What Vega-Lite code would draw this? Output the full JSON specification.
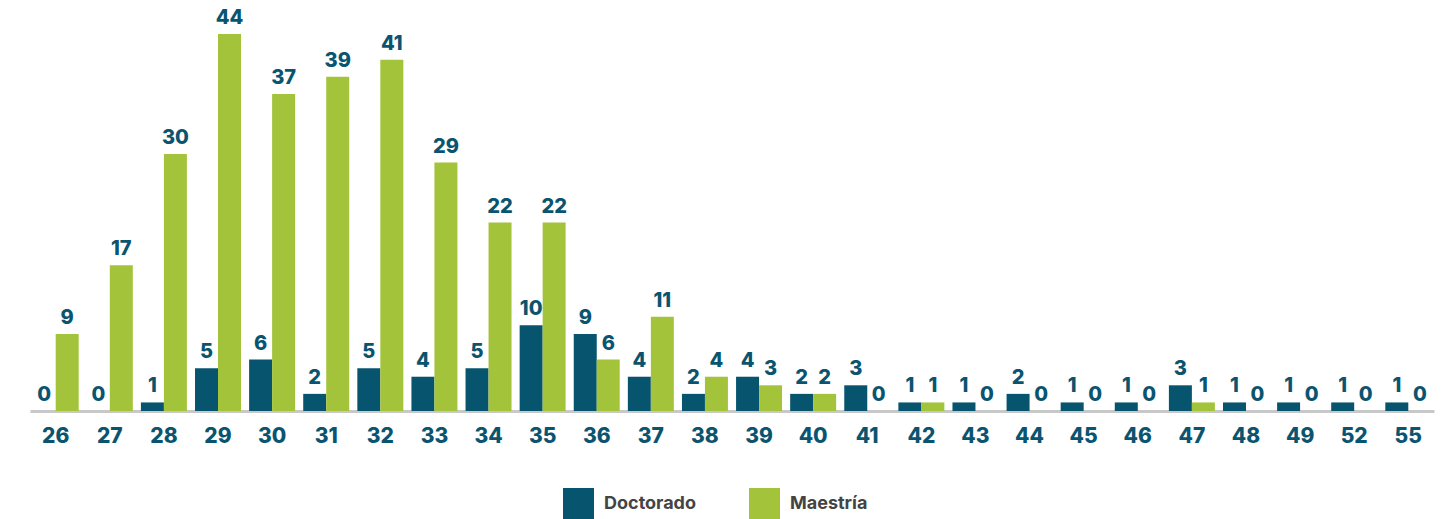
{
  "$schema": "https://vega.github.io/schema/vega-lite/v6.json",
  "width": 1404,
  "height": 377,
  "padding": {"left": 30, "top": 8, "right": 9, "bottom": 0},
  "autosize": {"type": "pad"},
  "background": "#ffffff",
  "config": {"view": {"stroke": null}, "font": "Inter"},
  "data": {"values": [
    {"edad": "26", "tipo": "Doctorado", "n": 0}, {"edad": "26", "tipo": "Maestría", "n": 9},
    {"edad": "27", "tipo": "Doctorado", "n": 0}, {"edad": "27", "tipo": "Maestría", "n": 17},
    {"edad": "28", "tipo": "Doctorado", "n": 1}, {"edad": "28", "tipo": "Maestría", "n": 30},
    {"edad": "29", "tipo": "Doctorado", "n": 5}, {"edad": "29", "tipo": "Maestría", "n": 44},
    {"edad": "30", "tipo": "Doctorado", "n": 6}, {"edad": "30", "tipo": "Maestría", "n": 37},
    {"edad": "31", "tipo": "Doctorado", "n": 2}, {"edad": "31", "tipo": "Maestría", "n": 39},
    {"edad": "32", "tipo": "Doctorado", "n": 5}, {"edad": "32", "tipo": "Maestría", "n": 41},
    {"edad": "33", "tipo": "Doctorado", "n": 4}, {"edad": "33", "tipo": "Maestría", "n": 29},
    {"edad": "34", "tipo": "Doctorado", "n": 5}, {"edad": "34", "tipo": "Maestría", "n": 22},
    {"edad": "35", "tipo": "Doctorado", "n": 10}, {"edad": "35", "tipo": "Maestría", "n": 22},
    {"edad": "36", "tipo": "Doctorado", "n": 9}, {"edad": "36", "tipo": "Maestría", "n": 6},
    {"edad": "37", "tipo": "Doctorado", "n": 4}, {"edad": "37", "tipo": "Maestría", "n": 11},
    {"edad": "38", "tipo": "Doctorado", "n": 2}, {"edad": "38", "tipo": "Maestría", "n": 4},
    {"edad": "39", "tipo": "Doctorado", "n": 4}, {"edad": "39", "tipo": "Maestría", "n": 3},
    {"edad": "40", "tipo": "Doctorado", "n": 2}, {"edad": "40", "tipo": "Maestría", "n": 2},
    {"edad": "41", "tipo": "Doctorado", "n": 3}, {"edad": "41", "tipo": "Maestría", "n": 0},
    {"edad": "42", "tipo": "Doctorado", "n": 1}, {"edad": "42", "tipo": "Maestría", "n": 1},
    {"edad": "43", "tipo": "Doctorado", "n": 1}, {"edad": "43", "tipo": "Maestría", "n": 0},
    {"edad": "44", "tipo": "Doctorado", "n": 2}, {"edad": "44", "tipo": "Maestría", "n": 0},
    {"edad": "45", "tipo": "Doctorado", "n": 1}, {"edad": "45", "tipo": "Maestría", "n": 0},
    {"edad": "46", "tipo": "Doctorado", "n": 1}, {"edad": "46", "tipo": "Maestría", "n": 0},
    {"edad": "47", "tipo": "Doctorado", "n": 3}, {"edad": "47", "tipo": "Maestría", "n": 1},
    {"edad": "48", "tipo": "Doctorado", "n": 1}, {"edad": "48", "tipo": "Maestría", "n": 0},
    {"edad": "49", "tipo": "Doctorado", "n": 1}, {"edad": "49", "tipo": "Maestría", "n": 0},
    {"edad": "52", "tipo": "Doctorado", "n": 1}, {"edad": "52", "tipo": "Maestría", "n": 0},
    {"edad": "55", "tipo": "Doctorado", "n": 1}, {"edad": "55", "tipo": "Maestría", "n": 0}
  ]},
  "encoding": {
    "x": {
      "field": "edad", "type": "ordinal", "sort": "ascending",
      "scale": {"paddingInner": 0.15, "paddingOuter": 0.05},
      "axis": {
        "title": null, "labelAngle": 0, "ticks": false,
        "domainColor": "#c8c8c8", "domainWidth": 3,
        "labelFont": "Inter", "labelFontSize": 21, "labelFontWeight": 800,
        "labelColor": "#0b546f", "labelPadding": 14
      }
    },
    "xOffset": {"field": "tipo", "type": "nominal", "sort": ["Doctorado", "Maestría"]},
    "y": {"field": "n", "type": "quantitative", "scale": {"domain": [0, 44], "nice": false}, "axis": null}
  },
  "layer": [
    {
      "mark": {"type": "bar"},
      "encoding": {
        "color": {
          "field": "tipo", "type": "nominal",
          "scale": {"domain": ["Doctorado", "Maestría"], "range": ["#06546e", "#a3c43a"]},
          "legend": {
            "title": null, "orient": "none", "direction": "horizontal",
            "legendX": 533, "legendY": 454,
            "symbolType": "square", "symbolSize": 961, "symbolStrokeWidth": 0,
            "labelFont": "Inter", "labelFontSize": 18, "labelFontWeight": 700,
            "labelColor": "#444444", "columnPadding": 52, "labelOffset": 10
          }
        }
      }
    },
    {
      "mark": {"type": "text", "baseline": "bottom", "dy": -6, "font": "Inter", "fontSize": 20, "fontWeight": 800, "color": "#0b546f"},
      "encoding": {"text": {"field": "n", "type": "quantitative"}}
    }
  ]
}
